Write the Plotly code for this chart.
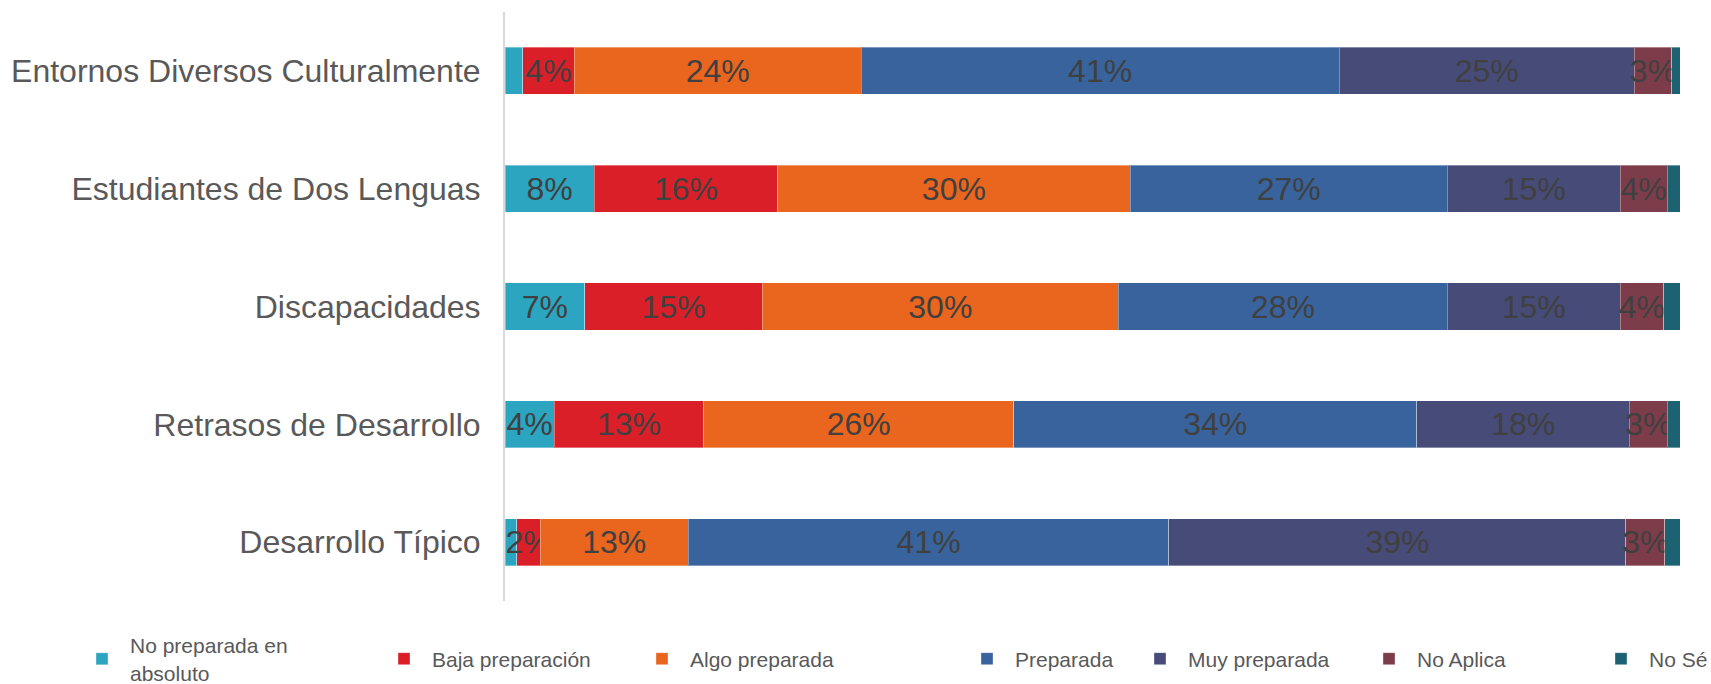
import plotly.graph_objects as go

# ---- data ----
categories = [
    "Entornos Diversos Culturalmente",
    "Estudiantes de Dos Lenguas",
    "Discapacidades",
    "Retrasos de Desarrollo",
    "Desarrollo Típico",
]
series_names = [
    "No preparada en<br>absoluto",
    "Baja preparación",
    "Algo preparada",
    "Preparada",
    "Muy preparada",
    "No Aplica",
    "No Sé",
]
no_preparada = [1.5, 7.6, 6.8, 4.2, 1.0]
baja = [4.4, 15.6, 15.1, 12.7, 2.0]
algo = [24.4, 30.0, 30.3, 26.4, 12.6]
preparada = [40.7, 27.0, 28.0, 34.3, 40.9]
muy_preparada = [25.1, 14.7, 14.7, 18.1, 38.9]
no_aplica = [3.2, 4.0, 3.7, 3.2, 3.3]
no_se = [0.7, 1.1, 1.4, 1.2, 1.3]
series_values = [no_preparada, baja, algo, preparada, muy_preparada, no_aplica, no_se]

# ---- styles ----
colors = ["#2CA5C1", "#DA1F28", "#EA651D", "#38639C", "#464C77", "#7D3C4A", "#1D6272"]
legend_text_px = [130, 432, 690, 1015, 1188, 1417, 1649]
W, H = 1711, 684
FONT = "Liberation Sans, Arial, sans-serif"


def label(v):
    return f"{int(v + 0.5)}%" if v >= 2 else ""


fig = go.Figure()
for i, (name, vals) in enumerate(zip(series_names, series_values)):
    lg = "legend" if i == 0 else f"legend{i + 1}"
    fig.add_trace(go.Bar(
        y=categories, x=vals, name=name, orientation="h",
        marker=dict(color=colors[i], line=dict(color="rgba(255,255,255,0.35)", width=1)),
        text=[label(v) for v in vals],
        textposition="inside", insidetextanchor="middle", textangle=0,
        textfont=dict(family=FONT, size=32, color="#404040"),
        hoverinfo="x+y+name",
        legend=lg,
    ))

layout_legends = {}
for i, tx in enumerate(legend_text_px):
    key = "legend" if i == 0 else f"legend{i + 1}"
    layout_legends[key] = dict(
        xref="container", yref="container",
        x=(tx - 56) / W, y=25 / H, xanchor="left", yanchor="middle",
        itemwidth=46, bgcolor="rgba(0,0,0,0)",
        font=dict(family=FONT, size=21, color="#595959"),
        valign="middle",
    )

fig.update_layout(
    width=W, height=H,
    barmode="stack", bargap=0.6,
    plot_bgcolor="white", paper_bgcolor="white",
    margin=dict(l=505, r=31, t=12, b=83, autoexpand=False),
    uniformtext=dict(minsize=32, mode="show"),
    xaxis=dict(range=[0, 100], visible=False, fixedrange=True, automargin=False),
    yaxis=dict(
        autorange="reversed", showline=True, linecolor="#D9D9D9", linewidth=2,
        ticks="", ticklabelstandoff=16, showgrid=False, automargin=False,
        tickfont=dict(family=FONT, size=32, color="#595959"),
    ),
    showlegend=True,
    **layout_legends,
)

fig.write_html(
    "out.html",
    config={"displayModeBar": False},
    post_script="document.body.style.margin='0';document.body.style.overflow='hidden';",
)
